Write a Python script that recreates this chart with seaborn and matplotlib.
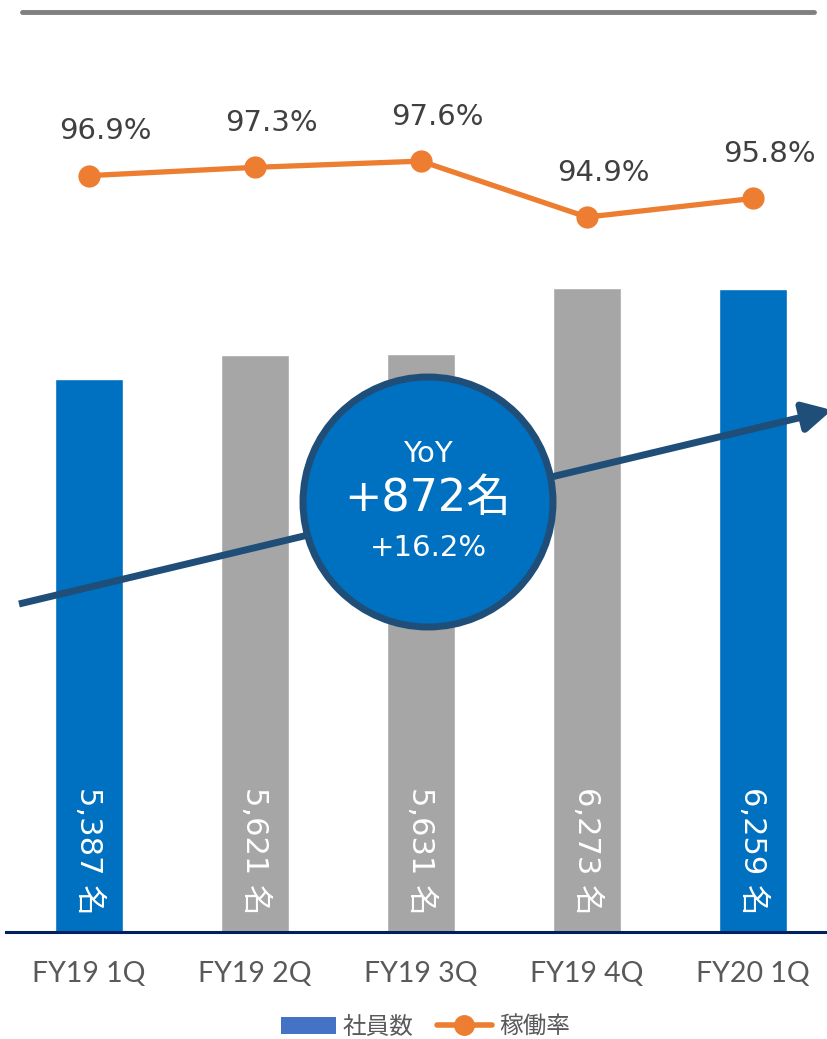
import matplotlib
matplotlib.use("Agg")
import matplotlib.pyplot as plt
import seaborn as sns
from matplotlib.patches import Ellipse, Patch
from matplotlib.lines import Line2D

# data
quarters = ["FY19 1Q", "FY19 2Q", "FY19 3Q", "FY19 4Q", "FY20 1Q"]
employees = [5387, 5621, 5631, 6273, 6259]
utilization = [96.9, 97.3, 97.6, 94.9, 95.8]
bar_colors = ["#0070C0", "#A6A6A6", "#A6A6A6", "#A6A6A6", "#0070C0"]
legend_labels = ["社員数", "稼働率"]
yoy_title = "YoY"
yoy_count = "+872名"
yoy_pct = "+16.2%"

W, H = 827, 1039

sns.set_theme(style="white")
plt.rcParams["font.family"] = ["DejaVu Sans", "Noto Sans CJK JP"]

fig = plt.figure(figsize=(W / 100, H / 100), dpi=100)
ax = fig.add_axes([6 / W, 1 - 932 / H, 830 / W, 872 / H])

sns.barplot(x=quarters, y=employees, hue=quarters, palette=bar_colors,
            legend=False, width=0.41, saturation=1, ax=ax)
ax.set_xlim(-0.5, 4.5)
ax.set_ylim(0, 8490)
ax.set_ylabel("")
ax.set_yticks([])
for s in ["top", "left", "right"]:
    ax.spines[s].set_visible(False)
ax.spines["bottom"].set_color("#002060")
ax.spines["bottom"].set_linewidth(2.2)
ax.tick_params(axis="x", length=0, pad=21)
for lbl in ax.get_xticklabels():
    lbl.set_fontfamily("Lato")
    lbl.set_fontsize(20.5)
    lbl.set_color("#595959")

# bar labels, vertical
for i, v in enumerate(employees):
    ax.text(i, 170, f"{v:,} 名", rotation=270, rotation_mode="anchor",
            ha="right", va="center", color="white", fontsize=22)

# utilization line on twin axis
ax2 = ax.twinx()
sns.lineplot(x=list(range(len(quarters))), y=utilization, ax=ax2,
             color="#ED7D31", linewidth=3.8, marker="o", markersize=16,
             markeredgewidth=0)
ax2.set_ylim(60.4, 102.48)
ax2.set_xlim(-0.5, 4.5)
ax2.set_yticks([])
for s in ["top", "left", "right", "bottom"]:
    ax2.spines[s].set_visible(False)
for i, v in enumerate(utilization):
    ax2.annotate(f"{v:.1f}%", (i, v), xytext=(12, 32), textcoords="offset points",
                 ha="center", va="center", fontsize=21, color="#404040")

# trend arrow
ax2.annotate("", xy=(832 / W, 1 - 410 / H), xytext=(19 / W, 1 - 604 / H),
             xycoords="figure fraction", textcoords="figure fraction",
             annotation_clip=False,
             arrowprops=dict(arrowstyle="-|>,head_length=0.85,head_width=0.45",
                             mutation_scale=20, color="#1F4E79", lw=5,
                             shrinkA=0, shrinkB=0, capstyle="butt"))

# YoY bubble
circle = Ellipse((428 / W, 1 - 502 / H), 250 / W, 250 / H, transform=fig.transFigure,
                 facecolor="#0070C0", edgecolor="#1F4E79", linewidth=5, zorder=10)
fig.add_artist(circle)
fig.text(428 / W, 1 - 454 / H, yoy_title, ha="center", va="center",
         color="white", fontsize=21, zorder=11)
fig.text(428 / W, 1 - 498 / H, yoy_count, ha="center", va="center",
         color="white", fontsize=32, zorder=11)
fig.text(428 / W, 1 - 548 / H, yoy_pct, ha="center", va="center",
         color="white", fontsize=21, zorder=11)

# top rule
fig.add_artist(Line2D([22 / W, 814 / W], [1 - 12 / H] * 2, transform=fig.transFigure,
                      color="#808080", linewidth=3.5))

# legend
handles = [Patch(facecolor="#4472C4", edgecolor="none"),
           Line2D([0], [0], color="#ED7D31", linewidth=4, marker="o", markersize=14)]
fig.legend(handles, legend_labels, loc="center", bbox_to_anchor=(0.5 + 12 / W, 1 - 1027 / H),
           ncol=2, frameon=False, handlelength=2.3, columnspacing=1.0,
           handletextpad=0.3, labelcolor="#595959",
           prop={"family": ["Noto Sans CJK JP"], "size": 17})

fig.savefig("out.png", dpi=100)
